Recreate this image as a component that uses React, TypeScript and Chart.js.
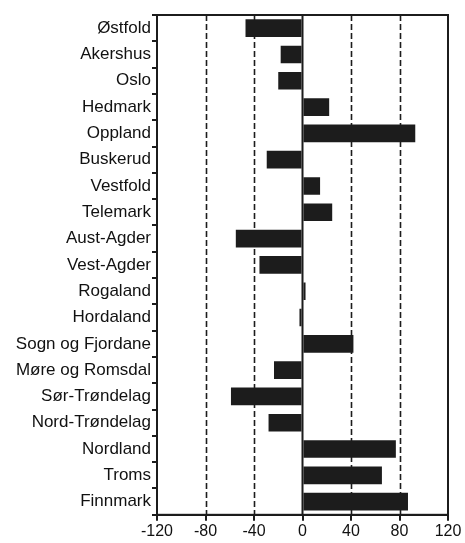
import React, { useEffect, useRef } from "react";
import { Chart, registerables } from "chart.js";

Chart.register(...registerables);

const counties = [
  "Østfold", "Akershus", "Oslo", "Hedmark", "Oppland", "Buskerud", "Vestfold",
  "Telemark", "Aust-Agder", "Vest-Agder", "Rogaland", "Hordaland",
  "Sogn og Fjordane", "Møre og Romsdal", "Sør-Trøndelag", "Nord-Trøndelag",
  "Nordland", "Troms", "Finnmark",
];

const values = [
  -47, -18, -20, 22, 93, -29.5, 14.5, 24.5, -55, -35.5, 2.5, -2.5, 42, -23.5,
  -59, -28, 77, 65.5, 87,
];

const xTicks = [-120, -80, -40, 0, 40, 80, 120];
const dashedLines = [-80, -40, 40, 80];
const solidLines = [0];

const INK = "#1c1c1c";

const framePlugin = {
  id: "frame",
  beforeDatasetsDraw(chart: any) {
    const { ctx, chartArea, scales } = chart;
    const x = scales.x;
    ctx.save();
    ctx.strokeStyle = INK;
    ctx.lineWidth = 1.6;
    ctx.setLineDash([6, 3]);
    dashedLines.forEach((v) => {
      const px = Math.round(x.getPixelForValue(v)) + 0.5;
      ctx.beginPath();
      ctx.moveTo(px, chartArea.top);
      ctx.lineTo(px, chartArea.bottom);
      ctx.stroke();
    });
    ctx.restore();
  },
  afterDatasetsDraw(chart: any) {
    const { ctx, chartArea, scales } = chart;
    const x = scales.x;
    ctx.save();
    ctx.strokeStyle = INK;
    ctx.lineWidth = 2;
    solidLines.forEach((v) => {
      const px = x.getPixelForValue(v);
      ctx.beginPath();
      ctx.moveTo(px, chartArea.top);
      ctx.lineTo(px, chartArea.bottom);
      ctx.stroke();
    });
    ctx.restore();
  },
  afterDraw(chart: any) {
    const { ctx, chartArea } = chart;
    ctx.save();
    ctx.strokeStyle = INK;
    ctx.lineWidth = 2;
    ctx.strokeRect(
      chartArea.left,
      chartArea.top,
      chartArea.right - chartArea.left,
      chartArea.bottom - chartArea.top
    );
    ctx.restore();
  },
};

export default function App() {
  const ref = useRef<HTMLCanvasElement | null>(null);

  useEffect(() => {
    document.body.style.margin = "0";
    if (!ref.current) return;
    const chart = new Chart(ref.current, {
      type: "bar",
      data: {
        labels: counties,
        datasets: [
          {
            data: values,
            backgroundColor: INK,
            borderWidth: 0,
            barPercentage: 0.67,
            categoryPercentage: 1,
          },
        ],
      },
      options: {
        indexAxis: "y",
        animation: false,
        responsive: false,
        devicePixelRatio: 1,
        layout: { padding: { top: 15, right: 17, left: 0, bottom: 1 } },
        plugins: {
          legend: { display: false },
          tooltip: { enabled: false },
        },
        scales: {
          x: {
            type: "linear",
            min: -120,
            max: 120,
            afterBuildTicks: (scale: any) => {
              scale.ticks = xTicks.map((v) => ({ value: v }));
            },
            grid: {
              drawOnChartArea: false,
              drawTicks: true,
              tickLength: 6,
              color: INK,
              lineWidth: 2,
            },
            border: { display: true, color: INK, width: 2 },
            ticks: {
              color: "#111",
              font: { family: "'Liberation Sans', Arial, sans-serif", size: 16 },
              padding: 1,
              maxRotation: 0,
            },
          },
          y: {
            type: "category",
            afterFit: (scale: any) => {
              scale.width = 157;
            },
            grid: {
              drawOnChartArea: false,
              drawTicks: true,
              tickLength: 5,
              offset: true,
              color: INK,
              lineWidth: 2,
            },
            border: { display: true, color: INK, width: 2 },
            ticks: {
              color: "#111",
              font: { family: "'Liberation Sans', Arial, sans-serif", size: 17 },
              padding: 1,
              autoSkip: false,
            },
          },
        },
      },
      plugins: [framePlugin],
    });
    return () => chart.destroy();
  }, []);

  return (
    <div style={{ position: "fixed", left: 0, top: 0, width: 465, height: 543, background: "#fff" }}>
      <canvas ref={ref} width={465} height={543} style={{ width: 465, height: 543 }} />
    </div>
  );
}
